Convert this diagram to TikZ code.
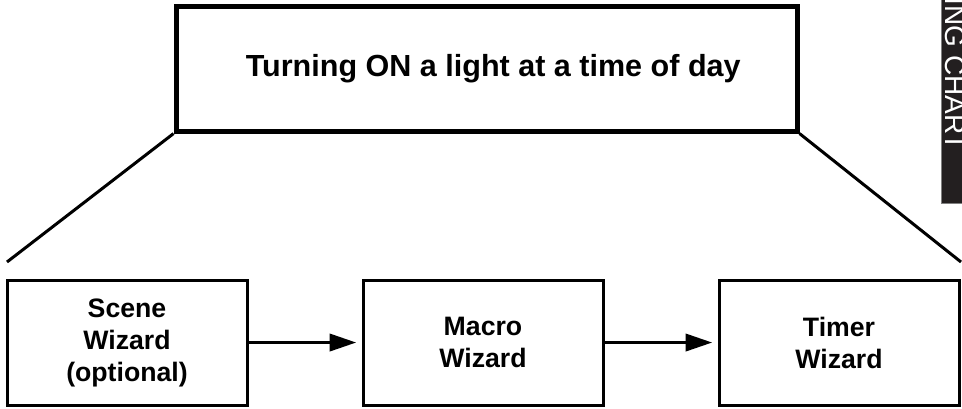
\documentclass[tikz,border=0pt]{standalone}
\usepackage{fontspec}
\setmainfont{Liberation Sans}
\usetikzlibrary{arrows.meta,positioning}
\definecolor{tabgray}{RGB}{35,31,32}
\definecolor{tabedge}{RGB}{128,128,128}
\newcommand{\boxfont}{\fontsize{20pt}{24pt}\selectfont\bfseries}

\begin{document}
\begin{tikzpicture}[
                    x=1pt,y=1pt,
                    node distance=267pt,
                    on grid,
                    wizard/.style={draw,line width=2.25pt,minimum width=180pt,
                      minimum height=93.75pt,inner sep=0pt,align=center,font=\boxfont},
                    link/.style={-{Triangle[length=20pt,width=13pt]},
                      line width=2.25pt,shorten >=4pt}]
  \useasboundingbox (0,0) rectangle (721.5,-306.75);
  \fill[tabgray,draw=tabedge,line width=0.6pt] (705.75,1) rectangle (723,-152.25);
  \node[rotate=-90,anchor=base west,text=white,inner sep=0pt,
        font=\fontsize{21pt}{25pt}\selectfont] (tab_txt) at (708.75,2) {ING CHART};
  \node[draw,line width=3.75pt,minimum width=465.75pt,minimum height=93.4pt,inner sep=0pt,
        font=\fontsize{22.9pt}{27pt}\selectfont\bfseries] (goal) at (364.9,-51.6)
        {\hspace{10pt}Turning ON a light at a time of day};
  \node[wizard] (wiz_scene) at (95.25,-256.9) {Scene\\Wizard\\(optional)};
  \node[wizard] (wiz_macro) [right=of wiz_scene] {Macro\\Wizard};
  \node[wizard] (wiz_timer) [right=of wiz_macro] {Timer\\Wizard};
  \coordinate (drop_l) at (5.25,-196.5);
  \coordinate (drop_r) at (720.75,-196.5);
  \draw[line width=2.25pt]
  (goal.south west) -- (drop_l)
  (goal.south east) -- (drop_r);
  \path[link]
  (wiz_scene) edge (wiz_macro)
  (wiz_macro) edge (wiz_timer);
\end{tikzpicture}
\end{document}
